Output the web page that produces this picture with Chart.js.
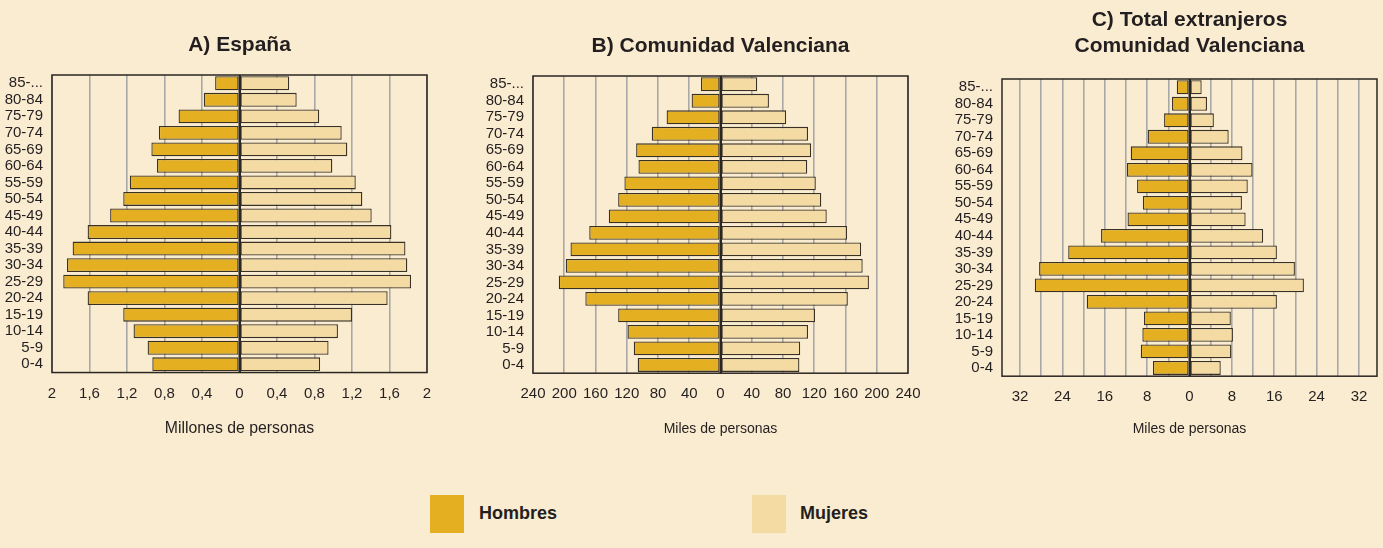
<!DOCTYPE html>
<html>
<head>
<meta charset="utf-8">
<script src="https://cdn.jsdelivr.net/npm/chart.js@4"></script>
<style>
  html, body { margin: 0; padding: 0; }
  body { width: 1383px; height: 548px; background: #faecd0; overflow: hidden; position: relative;
         font-family: "Liberation Sans", Arial, sans-serif; color: #231f20; }
  .panel { position: absolute; top: 0; }
  .key { position: absolute; top: 495px; width: 34px; height: 38px; }
  .key-text { position: absolute; top: 502px; font-size: 18px; font-weight: bold; line-height: 22px; }
</style>
</head>
<body>
<div class="panel" style="left:-4.3px;width:487px;height:442px"><canvas id="chart-a"></canvas></div>
<div class="panel" style="left:477.3px;width:487px;height:442px"><canvas id="chart-b"></canvas></div>
<div class="panel" style="left:946px;width:487px;height:442px"><canvas id="chart-c"></canvas></div>

<div class="key" style="left:430px;background:#e4b022"></div>
<div class="key-text" style="left:479px">Hombres</div>
<div class="key" style="left:752px;background:#f4dba4"></div>
<div class="key-text" style="left:800px">Mujeres</div>

<script>
// age groups, top of the pyramid first
const ageGroups = ["85-...", "80-84", "75-79", "70-74", "65-69", "60-64", "55-59", "50-54", "45-49",
                   "40-44", "35-39", "30-34", "25-29", "20-24", "15-19", "10-14", "5-9", "0-4"];

// A) España, millones de personas
const espanaHombres = [0.26, 0.38, 0.65, 0.86, 0.94, 0.88, 1.17, 1.24, 1.38, 1.62, 1.78, 1.84, 1.88, 1.62, 1.24, 1.13, 0.98, 0.93];
const espanaMujeres = [0.53, 0.61, 0.85, 1.09, 1.15, 0.99, 1.24, 1.31, 1.41, 1.62, 1.77, 1.79, 1.83, 1.58, 1.20, 1.05, 0.95, 0.86];

// B) Comunidad Valenciana, miles de personas
const cvHombres = [25, 37, 69, 88, 108, 105, 123, 131, 143, 168, 192, 198, 207, 173, 131, 119, 111, 106];
const cvMujeres = [47, 62, 84, 112, 116, 111, 122, 129, 136, 162, 180, 182, 190, 163, 121, 112, 102, 101];

// C) Total extranjeros Comunidad Valenciana, miles de personas
const extHombres = [2.4, 3.3, 4.8, 7.9, 11.1, 11.8, 9.9, 8.8, 11.7, 16.7, 22.9, 28.4, 29.2, 19.4, 8.6, 8.9, 9.2, 6.9];
const extMujeres = [2.3, 3.3, 4.6, 7.4, 10.0, 11.9, 11.0, 9.9, 10.6, 13.9, 16.5, 19.9, 21.6, 16.5, 7.8, 8.2, 7.9, 5.9];

// x axis ticks
const ticksA = [-2, -1.6, -1.2, -0.8, -0.4, 0, 0.4, 0.8, 1.2, 1.6, 2];
const ticksB = [-240, -200, -160, -120, -80, -40, 0, 40, 80, 120, 160, 200, 240];
const ticksC = [-32, -28, -24, -20, -16, -12, -8, -4, 0, 4, 8, 12, 16, 20, 24, 28, 32];

const FONT = "'Liberation Sans', Arial, sans-serif";
const INK = "#231f20";
const SIDE = 56; // room for the age labels, mirrored on the right so titles stay centred

const framePlugin = {
    id: "frame",
    afterDatasetsDraw(chart) {
        const a = chart.chartArea;
        const ctx = chart.ctx;
        const x0 = chart.scales.x.getPixelForValue(0);
        ctx.save();
        ctx.strokeStyle = "#2a2622";
        ctx.lineWidth = 2;
        ctx.beginPath();
        ctx.moveTo(x0, a.top);
        ctx.lineTo(x0, a.bottom);
        ctx.stroke();
        ctx.lineWidth = 1.5;
        ctx.strokeRect(a.left, a.top, a.right - a.left, a.bottom - a.top);
        ctx.restore();
    }
};

function makePyramid(id, cfg) {
    const ctx = document.getElementById(id).getContext("2d");
    return new Chart(ctx, {
        type: "bar",
        data: {
            labels: ageGroups,
            datasets: [
                {
                    label: "Hombres",
                    data: cfg.hombres.map(v => -v),
                    backgroundColor: "#e4b022",
                    borderColor: "#3a3126",
                    borderWidth: 1.3,
                    borderSkipped: false,
                    barPercentage: 0.84,
                    categoryPercentage: 1
                },
                {
                    label: "Mujeres",
                    data: cfg.mujeres,
                    backgroundColor: "#f4dba4",
                    borderColor: "#3a3126",
                    borderWidth: 1.3,
                    borderSkipped: false,
                    barPercentage: 0.84,
                    categoryPercentage: 1
                }
            ]
        },
        options: {
            indexAxis: "y",
            responsive: true,
            maintainAspectRatio: false,
            animation: false,
            layout: { padding: 0 },
            plugins: {
                legend: { display: false },
                tooltip: { enabled: false },
                title: {
                    display: true,
                    text: cfg.title,
                    color: INK,
                    font: { family: FONT, size: 21, weight: "bold", lineHeight: "26px" },
                    padding: cfg.titlePadding
                }
            },
            scales: {
                x: {
                    stacked: true,
                    min: cfg.min,
                    max: cfg.max,
                    afterBuildTicks: axis => { axis.ticks = cfg.ticks.map(v => ({ value: v })); },
                    grid: {
                        drawTicks: false,
                        color: c => (c.tick && c.tick.value === 0) ? "#2a2622" : "#a8a8a8",
                        lineWidth: c => (c.tick && c.tick.value === 0) ? 2 : 1.6
                    },
                    border: { display: false },
                    ticks: {
                        autoSkip: false,
                        maxRotation: 0,
                        padding: 12,
                        color: INK,
                        font: { family: FONT, size: 15 },
                        callback: cfg.tickLabel
                    },
                    title: {
                        display: true,
                        text: cfg.axisTitle,
                        color: INK,
                        font: { family: FONT, size: cfg.axisTitleSize },
                        padding: { top: cfg.axisTitleGap, bottom: 4 }
                    }
                },
                y: {
                    stacked: true,
                    afterFit: s => { s.width = SIDE; },
                    grid: { display: false, drawTicks: false },
                    border: { display: false },
                    ticks: {
                        autoSkip: false,
                        padding: 9,
                        color: INK,
                        font: { family: FONT, size: 15 }
                    }
                },
                yRight: {
                    type: "category",
                    position: "right",
                    afterFit: s => { s.width = SIDE; },
                    grid: { display: false, drawTicks: false },
                    border: { display: false },
                    ticks: { display: false }
                }
            }
        },
        plugins: [framePlugin]
    });
}

makePyramid("chart-a", {
    title: "A) España",
    titlePadding: { top: 32, bottom: 17 },
    hombres: espanaHombres,
    mujeres: espanaMujeres,
    min: -2, max: 2,
    ticks: ticksA,
    tickLabel: v => String(Math.abs(Number(v.toFixed(1)))).replace(".", ","),
    axisTitle: "Millones de personas",
    axisTitleSize: 15.8,
    axisTitleGap: 4.5
});

makePyramid("chart-b", {
    title: "B) Comunidad Valenciana",
    titlePadding: { top: 33, bottom: 17 },
    hombres: cvHombres,
    mujeres: cvMujeres,
    min: -240, max: 240,
    ticks: ticksB,
    tickLabel: v => String(Math.abs(v)),
    axisTitle: "Miles de personas",
    axisTitleSize: 14,
    axisTitleGap: 6
});

makePyramid("chart-c", {
    title: ["C) Total extranjeros", "Comunidad Valenciana"],
    titlePadding: { top: 7, bottom: 20 },
    hombres: extHombres,
    mujeres: extMujeres,
    min: -35.4, max: 35.4,
    ticks: ticksC,
    tickLabel: v => (v % 8 === 0 ? String(Math.abs(v)) : ""),
    axisTitle: "Miles de personas",
    axisTitleSize: 14,
    axisTitleGap: 3
});
</script>
</body>
</html>
